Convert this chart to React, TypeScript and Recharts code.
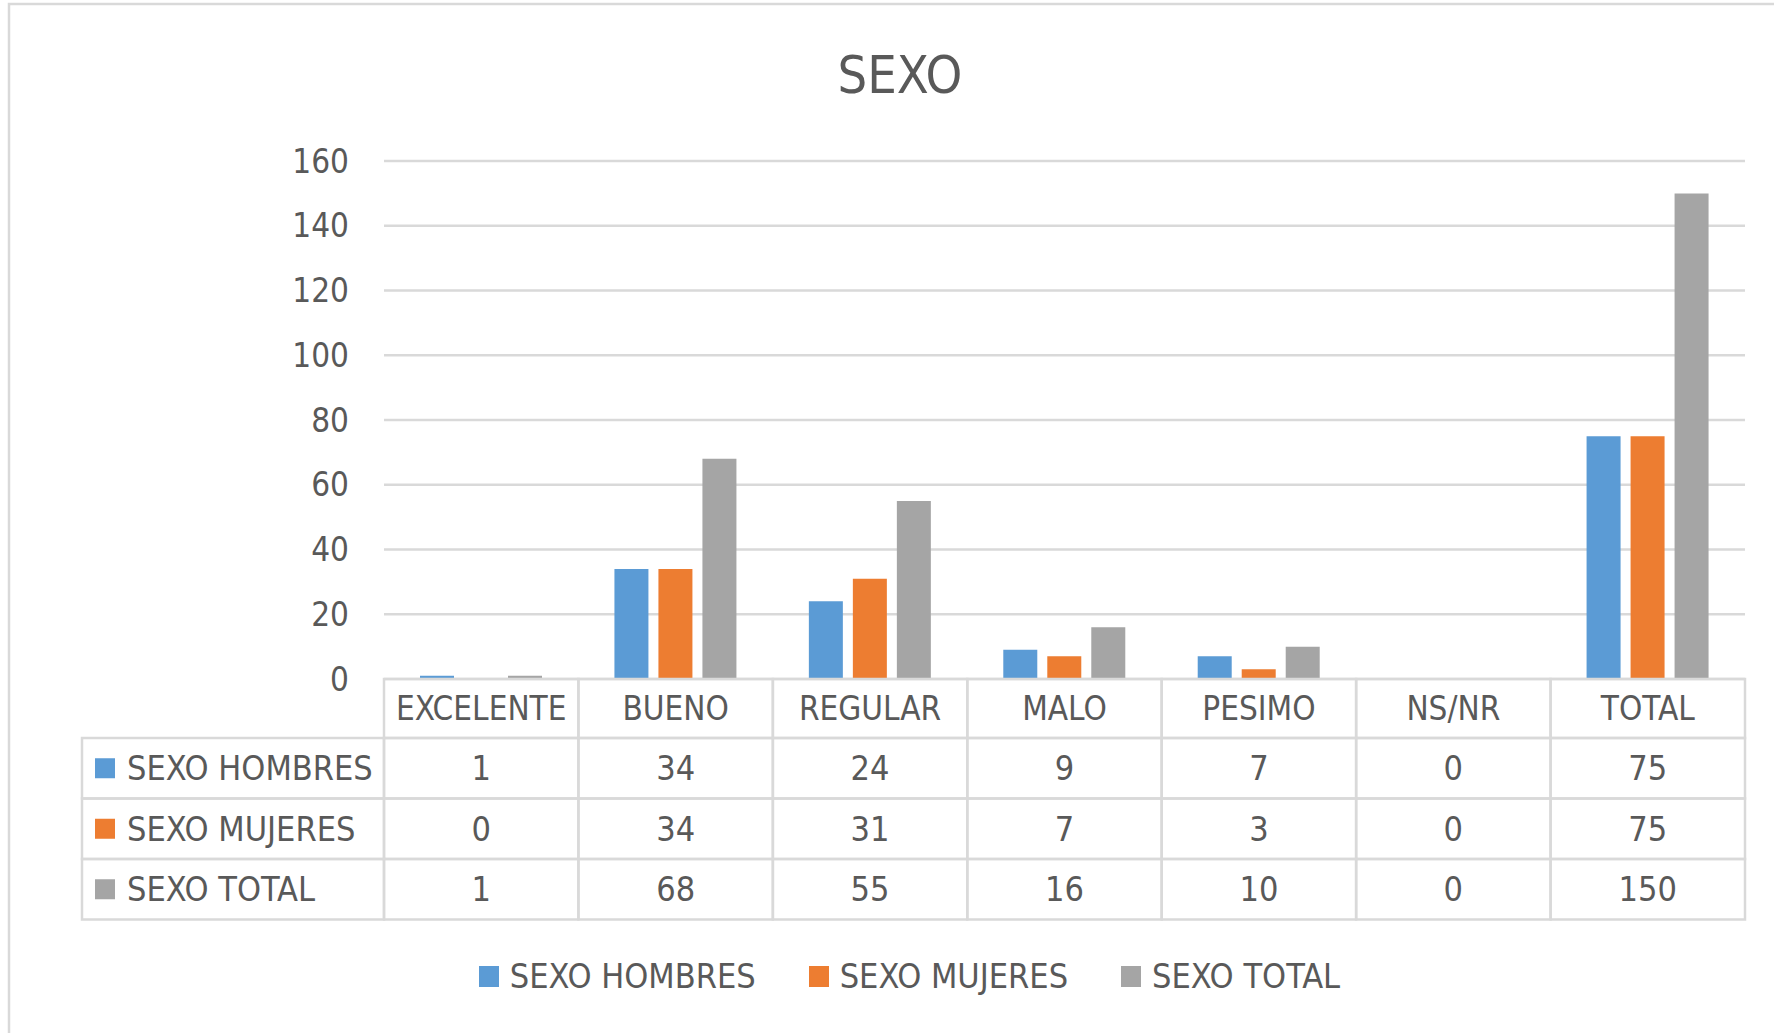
import { Bar, BarChart, CartesianGrid, Legend, XAxis, YAxis } from "recharts";

const categories = ["EXCELENTE", "BUENO", "REGULAR", "MALO", "PESIMO", "NS/NR", "TOTAL"];
const hombres = [1, 34, 24, 9, 7, 0, 75];
const mujeres = [0, 34, 31, 7, 3, 0, 75];
const total = [1, 68, 55, 16, 10, 0, 150];
const yTicks = [0, 20, 40, 60, 80, 100, 120, 140, 160];

const series = [
  { key: "hombres", name: "SEXO HOMBRES", color: "#5B9BD5", values: hombres },
  { key: "mujeres", name: "SEXO MUJERES", color: "#ED7D31", values: mujeres },
  { key: "total", name: "SEXO TOTAL", color: "#A5A5A5", values: total },
];

const rows = categories.map((category, i) => ({
  category,
  hombres: hombres[i],
  mujeres: mujeres[i],
  total: total[i],
}));

// layout (page pixels)
const W = 1774;
const H = 1033;
const PLOT_LEFT = 384;
const PLOT_RIGHT = 1745;
const PLOT_TOP = 161;
const PLOT_BOTTOM = 679;
const HEADER_H = 59;
const ROW_H = 60.5;
const LABEL_LEFT = 82;
const LEGEND_H = 40;
const BAND = (PLOT_RIGHT - PLOT_LEFT) / categories.length;

const FONT =
  "'Liberation Sans Narrow', 'Arial Narrow', 'DejaVu Sans Condensed', Roboto, sans-serif";
const TEXT = "#595959";
const LINE = "#d9d9d9";
const FS = 34;

function HeaderTick({ x, y, payload }: any) {
  return (
    <g>
      <rect x={x - BAND / 2} y={y} width={BAND} height={HEADER_H} fill="none" stroke={LINE} strokeWidth={2.5} />
      <text
        x={x}
        y={y + HEADER_H / 2}
        dy="0.35em"
        textAnchor="middle"
        fill={TEXT}
        fontSize={FS - 1}
        fontFamily={FONT}
      >
        {payload.value}
      </text>
    </g>
  );
}

function rowTick(s: (typeof series)[number]) {
  return ({ x, y, index }: any) => (
    <g>
      <rect x={x - BAND / 2} y={y} width={BAND} height={ROW_H} fill="none" stroke={LINE} strokeWidth={2.5} />
      <text
        x={x}
        y={y + ROW_H / 2}
        dy="0.35em"
        textAnchor="middle"
        fill={TEXT}
        fontSize={FS}
        fontFamily={FONT}
      >
        {s.values[index]}
      </text>
      {index === 0 && (
        <g>
          <rect
            x={LABEL_LEFT}
            y={y}
            width={x - BAND / 2 - LABEL_LEFT}
            height={ROW_H}
            fill="none"
            stroke={LINE}
            strokeWidth={2.5}
          />
          <rect x={95} y={y + ROW_H / 2 - 10} width={20} height={20} fill={s.color} />
          <text x={127} y={y + ROW_H / 2} dy="0.35em" fill={TEXT} fontSize={FS} fontFamily={FONT}>
            {s.name}
          </text>
        </g>
      )}
    </g>
  );
}

function renderLegend({ payload }: any) {
  return (
    <div
      style={{
        display: "flex",
        justifyContent: "center",
        alignItems: "center",
        gap: 53,
        height: LEGEND_H,
        fontFamily: FONT,
        fontSize: FS,
        color: TEXT,
      }}
    >
      {(payload ?? []).map((p: any) => (
        <div key={p.value} style={{ display: "flex", alignItems: "center", gap: 11 }}>
          <span style={{ width: 20, height: 21, background: p.color, display: "inline-block" }} />
          <span>{p.value}</span>
        </div>
      ))}
    </div>
  );
}

export default function App() {
  return (
    <div style={{ position: "absolute", left: 0, top: 0, width: W, height: H, background: "#fff" }}>
      <BarChart
        width={W}
        height={H}
        data={rows}
        barSize={34}
        barGap={10}
        margin={{
          top: PLOT_TOP,
          right: W - PLOT_RIGHT,
          left: 0,
          bottom: H - PLOT_BOTTOM - HEADER_H - 3 * ROW_H - LEGEND_H,
        }}
        style={{ fontFamily: FONT }}
      >
        <CartesianGrid xAxisId="head" vertical={false} stroke={LINE} strokeWidth={2.5} />
        <XAxis
          xAxisId="head"
          dataKey="category"
          height={HEADER_H}
          axisLine={false}
          tickLine={false}
          tickSize={0}
          tickMargin={0}
          interval={0}
          tick={HeaderTick}
        />
        {series.map((s) => (
          <XAxis
            key={s.key}
            xAxisId={s.key}
            dataKey="category"
            height={ROW_H}
            axisLine={false}
            tickLine={false}
            tickSize={0}
            tickMargin={0}
            interval={0}
            tick={rowTick(s)}
          />
        ))}
        <YAxis
          domain={[0, 160]}
          ticks={yTicks}
          width={PLOT_LEFT}
          axisLine={false}
          tickLine={false}
          tickSize={0}
          tickMargin={35}
          tick={{ fill: TEXT, fontSize: FS - 1, fontFamily: FONT }}
        />
        <Legend
          verticalAlign="bottom"
          height={LEGEND_H}
          wrapperStyle={{ left: 0, top: 956, bottom: "auto", width: 1819, height: LEGEND_H }}
          content={renderLegend}
        />
        {series.map((s) => (
          <Bar
            key={s.key}
            xAxisId="head"
            dataKey={s.key}
            name={s.name}
            fill={s.color}
            isAnimationActive={false}
          />
        ))}
      </BarChart>
      <svg
        width={W}
        height={H}
        style={{ position: "absolute", left: 0, top: 0, pointerEvents: "none" }}
      >
        <rect x={9} y={4} width={W + 20} height={H + 20} fill="none" stroke={LINE} strokeWidth={2.5} />
        <text x={900} y={93} textAnchor="middle" fill={TEXT} fontSize={52} fontFamily={FONT}>
          SEXO
        </text>
      </svg>
    </div>
  );
}
